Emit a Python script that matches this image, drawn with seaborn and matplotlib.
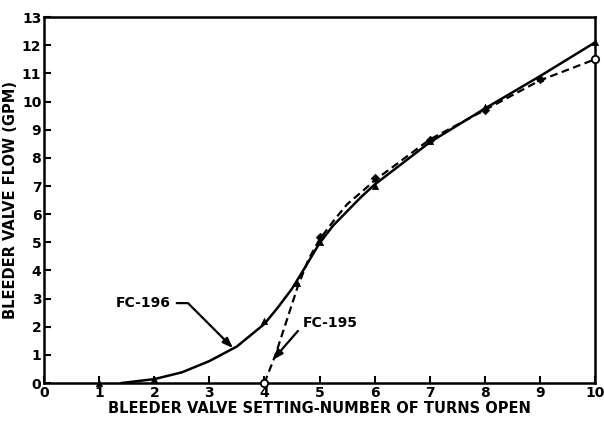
import matplotlib
matplotlib.use("Agg")
import matplotlib.pyplot as plt
import seaborn as sns
import pandas as pd

# ---- data ----
# FC-196 (solid) curve
x196 = [1.4, 2.0, 2.5, 3.0, 3.5, 4.0, 4.25, 4.5, 4.75, 5.0, 5.25, 5.5, 5.75, 6.0, 7.0, 8.0, 9.0, 10.0]
y196 = [0.0, 0.14, 0.38, 0.78, 1.3, 2.1, 2.7, 3.35, 4.15, 4.97, 5.6, 6.1, 6.6, 7.05, 8.55, 9.75, 10.9, 12.1]
# FC-196 test points
px196 = [1, 2, 4, 4.6, 5, 6, 7, 8, 9, 10]
py196 = [0.0, 0.15, 2.2, 3.55, 5.0, 7.0, 8.6, 9.8, 10.85, 12.1]
# FC-195 (dashed) curve
x195 = [4.0, 4.2, 4.4, 4.6, 4.8, 5.0, 5.25, 5.5, 5.8, 6.0, 7.0, 8.0, 9.0, 10.0]
y195 = [0.0, 1.0, 2.2, 3.4, 4.4, 5.1, 5.75, 6.35, 6.85, 7.2, 8.65, 9.7, 10.75, 11.5]
# FC-195 test points
px195 = [5, 6, 7, 8, 9]
py195 = [5.2, 7.3, 8.65, 9.7, 10.8]
px195_open = [4, 10]
py195_open = [0.0, 11.5]

xticks = list(range(0, 11))
yticks = list(range(0, 14))

sns.set_style("ticks")
plt.rcParams["font.family"] = ["DejaVu Sans"]
plt.rcParams["font.weight"] = "bold"
plt.rcParams["text.color"] = "black"
plt.rcParams["axes.labelcolor"] = "black"
plt.rcParams["xtick.color"] = "black"
plt.rcParams["ytick.color"] = "black"
plt.rcParams["axes.edgecolor"] = "black"

fig = plt.figure(figsize=(6.04, 4.28), dpi=100)
ax = fig.add_axes([0.073, 0.105, 0.912, 0.855])

d196 = pd.DataFrame({"x": x196, "y": y196})
d195 = pd.DataFrame({"x": x195, "y": y195})
sns.lineplot(data=d196, x="x", y="y", ax=ax, color="black", linewidth=1.8,
             sort=False, estimator=None)
sns.lineplot(data=d195, x="x", y="y", ax=ax, color="black", linewidth=1.6,
             sort=False, estimator=None, linestyle=(0, (3.5, 2)))

sns.scatterplot(x=px196, y=py196, ax=ax, marker="^", s=22, color="black",
                edgecolor="black", zorder=5, clip_on=False)
sns.scatterplot(x=px195, y=py195, ax=ax, marker="D", s=20, color="black",
                edgecolor="black", zorder=5, clip_on=False)
sns.scatterplot(x=px195_open, y=py195_open, ax=ax, marker="o", s=28,
                facecolor="white", edgecolor="black", linewidth=1.3,
                zorder=6, clip_on=False)

ax.set_xlim(0, 10)
ax.set_ylim(0, 13)
ax.set_xticks(xticks)
ax.set_yticks(yticks)
ax.set_xticklabels([str(v) for v in xticks], fontsize=10, fontweight="bold")
ax.set_yticklabels([str(v) for v in yticks], fontsize=10, fontweight="bold")
ax.tick_params(direction="in", length=5, width=1.5, pad=2, colors="black")
for s in ax.spines.values():
    s.set_linewidth(1.8)
    s.set_color("black")
    s.set_visible(True)

ax.set_xlabel("BLEEDER VALVE SETTING-NUMBER OF TURNS OPEN", fontsize=10.5,
              fontweight="bold", labelpad=1, color="black")
ax.set_ylabel("BLEEDER VALVE FLOW (GPM)", fontsize=10.5, fontweight="bold",
              labelpad=3, color="black")

arrow = dict(arrowstyle="-|>,head_length=0.6,head_width=0.22", color="black",
             lw=1.6, shrinkA=2, shrinkB=0)
ax.annotate("FC-196", xy=(3.43, 1.24), xytext=(1.8, 2.84), fontsize=10,
            fontweight="bold", ha="center", va="center", color="black",
            arrowprops=dict(arrow, connectionstyle="angle,angleA=0,angleB=135,rad=0"))
ax.annotate("FC-195", xy=(4.15, 0.82), xytext=(5.2, 2.13), fontsize=10,
            fontweight="bold", ha="center", va="center", color="black",
            arrowprops=dict(arrow, connectionstyle="angle,angleA=0,angleB=49,rad=0"))

fig.savefig("out.png", dpi=100)
